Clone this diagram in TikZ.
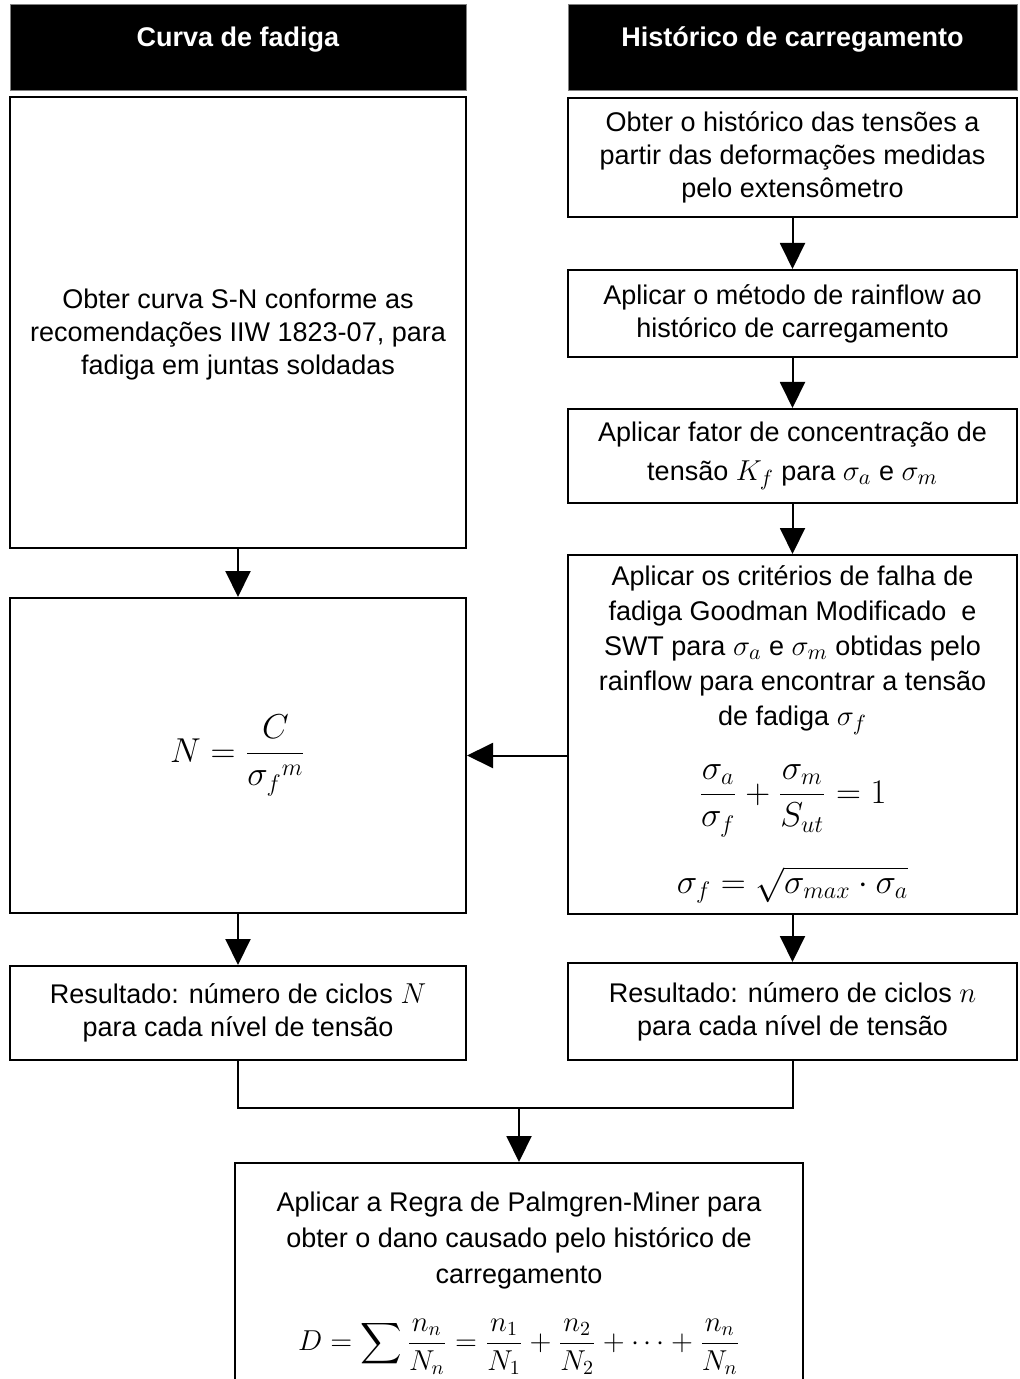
\documentclass[tikz,border=0pt]{standalone}
\usepackage{amsmath}
\usepackage{exscale}
\usepackage{fontspec}
\setmainfont{Liberation Sans}
\usetikzlibrary{arrows.meta}

\newcommand{\mth}[1]{{\fontsize{15.5}{16.5}\selectfont$#1$}}
\newcommand{\eqn}[1]{{\fontsize{16.5}{20}\selectfont$\displaystyle #1$}}

\begin{document}
\begin{tikzpicture}[x=0.5pt,y=-0.5pt,font=\fontsize{13.5}{16.5}\selectfont]

        \useasboundingbox (0,0) rectangle (1019,1379);

        \begin{scope}[every node/.style={fill=black,draw=gray,text=white,font=\fontsize{13.5}{16.5}\selectfont\bfseries,inner sep=0pt,text height=21.5pt,text depth=21.5pt}]
          \node[minimum width=228pt]   (hcurva) at (238,47)   {Curva de fadiga};
          \node[minimum width=224.5pt] (hhist)  at (792.5,47) {Histórico de carregamento};
        \end{scope}

        \begin{scope}[every node/.style={draw,line width=1pt,align=center,inner sep=2pt}]
          \node[minimum width=228pt,minimum height=225.5pt,text height=55pt] (sn) at (238,322.5) {Obter curva S-N conforme as\\recomendações IIW 1823-07, para\\fadiga em juntas soldadas};
          \node[minimum width=228pt,minimum height=157.5pt] (vida) at (238,755.5) {\eqn{N=\frac{C}{{\sigma_f}^m}}};
          \node[minimum width=228pt,minimum height=47pt]    (resN) at (238,1013)  {Resultado: número de ciclos \mth{N}\\para cada nível de tensão};

          \node[minimum width=224.5pt,minimum height=59.5pt] (tensoes)  at (792.5,157.5) {Obter o histórico das tensões a\\partir das deformações medidas\\pelo extensômetro};
          \node[minimum width=224.5pt,minimum height=43.5pt] (rainflow) at (792.5,313.5) {Aplicar o método de rainflow ao\\histórico de carregamento};
          \node[minimum width=224.5pt,minimum height=47pt]   (kf)       at (792.5,456)   {Aplicar fator de concentração de\\[3pt]tensão \mth{K_f} para \mth{\sigma_a} e \mth{\sigma_m}};
          \node[minimum width=224.5pt,minimum height=179.5pt,font=\fontsize{13.5}{17.5}\selectfont] (criterio) at (792.5,734.5) {Aplicar os critérios de falha de\\fadiga Goodman Modificado \ e\\SWT para \mth{\sigma_a} e \mth{\sigma_m} obtidas pelo\\rainflow para encontrar a tensão\\de fadiga \mth{\sigma_f}\\[14pt]\eqn{\frac{\sigma_a}{\sigma_f}+\frac{\sigma_m}{S_{ut}}=1}\\[14pt]\eqn{\sigma_f=\sqrt{\sigma_{max}\cdot\sigma_a}}};
          \node[minimum width=224.5pt,minimum height=48.5pt] (resn)     at (792.5,1011.5) {Resultado: número de ciclos \mth{n}\\para cada nível de tensão};

          \node[minimum width=284pt,minimum height=120pt,font=\fontsize{13.5}{18}\selectfont] (miner) at (519,1283) {Aplicar a Regra de Palmgren-Miner para\\obter o dano causado pelo histórico de\\carregamento\\[14pt]{\fontsize{14}{18}\selectfont$\displaystyle D=\sum\frac{n_n}{N_n}=\frac{n_1}{N_1}+\frac{n_2}{N_2}+\cdots+\frac{n_n}{N_n}$}};
        \end{scope}

        \coordinate (junta) at (519,1108);
        \draw[line width=1pt] (resN.south) |- (junta) -| (resn.south);

        \begin{scope}[every edge/.style={draw,line width=1pt,-{Triangle[length=13pt,width=12.5pt]}}]
          \path (sn)       edge (vida);
          \path (vida)     edge (resN);
          \path (tensoes)  edge (rainflow);
          \path (rainflow) edge (kf);
          \path (kf)       edge (criterio);
          \path (criterio) edge (resn);
          \path (criterio.west |- vida.east) edge (vida.east);
          \path (junta)    edge (miner.north);
        \end{scope}

      \end{tikzpicture}
\end{document}
